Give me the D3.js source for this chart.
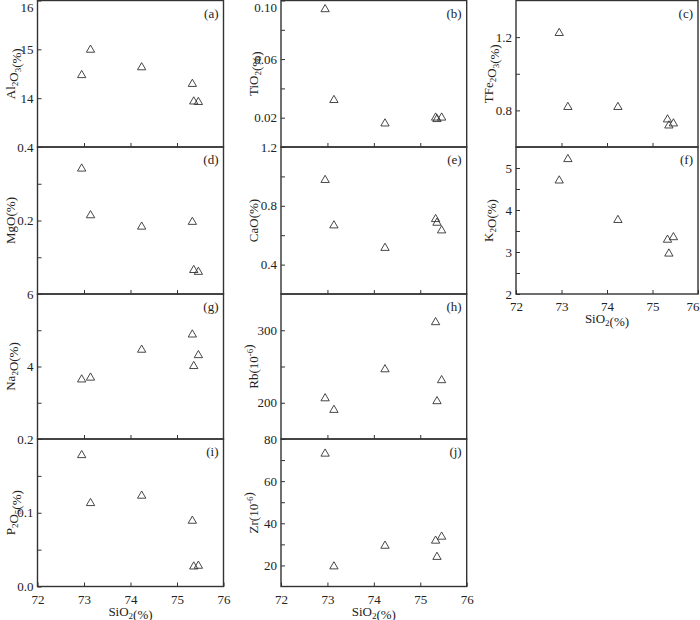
<!DOCTYPE html>
<html>
<head>
<meta charset="utf-8">
<style>
  body { margin: 0; background: #fff; }
  svg { display: block; }
  text { font-family: "Liberation Serif", "Times New Roman", serif; fill: #222; }
</style>
</head>
<body>
<div id="chart"></div>
<script src="https://d3js.org/d3.v7.min.js"></script>
<script>
// six samples, SiO2 (%)
var sio2 = [72.95, 73.14, 74.24, 75.33, 75.36, 75.46];

var al2o3 = [14.47, 14.99, 14.63, 14.29, 13.93, 13.92];
var tio2 = [0.094, 0.032, 0.016, 0.020, 0.019, 0.020];
var tfe2o3 = [1.222, 0.818, 0.818, 0.750, 0.717, 0.728];
var mgo = [0.341, 0.214, 0.183, 0.196, 0.065, 0.060];
var cao = [0.975, 0.666, 0.513, 0.709, 0.684, 0.632];
var k2o = [4.70, 5.21, 3.76, 3.29, 2.96, 3.35];
var na2o = [3.64, 3.69, 4.46, 4.88, 4.01, 4.31];
var rb = [206, 190, 246, 311, 202, 231];
var p2o5 = [0.178, 0.113, 0.123, 0.089, 0.027, 0.028];
var zr = [73, 19.5, 29.3, 31.7, 24, 33.6];

var xTicks = [72, 73, 74, 75, 76];

var w = 700, h = 620;

// column x ranges and row y ranges
var cols = [[37.5, 223.5], [281, 466.7], [516, 698]];
var rows = [[0.5, 147], [147, 294], [294, 439], [439, 586.5]];

// title parts: [text, "sub" | "sup" | ""]
var panels = [
  { id: "a", col: 0, row: 0, vals: al2o3, dom: [13, 16], major: [14, 15, 16], minor: [], fmt: "d",
    title: [["Al", ""], ["2", "sub"], ["O", ""], ["3", "sub"], ["(%)", ""]] },
  { id: "b", col: 1, row: 0, vals: tio2, dom: [0, 0.10], major: [0.02, 0.06, 0.10], minor: [0.04, 0.08], fmt: ".2f",
    title: [["TiO", ""], ["2", "sub"], ["(%)", ""]] },
  { id: "c", col: 2, row: 0, vals: tfe2o3, dom: [0.6, 1.4], major: [0.8, 1.2], minor: [0.6, 1.0], fmt: ".1f",
    title: [["TFe", ""], ["2", "sub"], ["O", ""], ["3", "sub"], ["(%)", ""]] },
  { id: "d", col: 0, row: 1, vals: mgo, dom: [0, 0.4], major: [0.2, 0.4], minor: [0.1, 0.3], fmt: ".1f",
    title: [["MgO(%)", ""]] },
  { id: "e", col: 1, row: 1, vals: cao, dom: [0.2, 1.2], major: [0.4, 0.8, 1.2], minor: [0.6, 1.0], fmt: ".1f",
    title: [["CaO(%)", ""]] },
  { id: "f", col: 2, row: 1, vals: k2o, dom: [2, 5.5], major: [2, 3, 4, 5], minor: [2.5, 3.5, 4.5], fmt: "d",
    title: [["K", ""], ["2", "sub"], ["O(%)", ""]], bottom: true },
  { id: "g", col: 0, row: 2, vals: na2o, dom: [2, 6], major: [4, 6], minor: [3, 5], fmt: "d",
    title: [["Na", ""], ["2", "sub"], ["O(%)", ""]] },
  { id: "h", col: 1, row: 2, vals: rb, dom: [150, 350], major: [200, 300], minor: [250], fmt: "d",
    title: [["Rb(10", ""], ["-6", "sup"], [")", ""]] },
  { id: "i", col: 0, row: 3, vals: p2o5, dom: [0, 0.2], major: [0.0, 0.1, 0.2], minor: [0.05, 0.15], fmt: ".1f",
    title: [["P", ""], ["2", "sub"], ["O", ""], ["5", "sub"], ["(%)", ""]], bottom: true },
  { id: "j", col: 1, row: 3, vals: zr, dom: [10, 80], major: [20, 40, 60, 80], minor: [30, 50, 70], fmt: "d",
    title: [["Zr(10", ""], ["-6", "sup"], [")", ""]], bottom: true }
];

var svg = d3.select("#chart").append("svg").attr("width", w).attr("height", h);

function addRich(sel, parts) {
  parts.forEach(function (p) {
    var t = sel.append("tspan").text(p[0]);
    if (p[1] === "sub") {
      t.attr("font-size", 9).attr("dy", 3);
      sel.append("tspan").attr("dy", -3).text("");
    } else if (p[1] === "sup") {
      t.attr("font-size", 9).attr("dy", -5);
      sel.append("tspan").attr("dy", 5).text("");
    }
  });
}

var tri = d3.symbol().type(d3.symbolTriangle).size(30);

panels.forEach(function (p) {
  var cx = cols[p.col], ry = rows[p.row];
  var x = d3.scaleLinear().domain([72, 76]).range(cx);
  var y = d3.scaleLinear().domain(p.dom).range([ry[1], ry[0]]);
  var g = svg.append("g");

  // y axis, ticks inward
  var ya = g.append("g").attr("transform", "translate(" + cx[0] + ",0)")
    .call(d3.axisLeft(y).tickValues(p.major).tickFormat(d3.format(p.fmt))
      .tickSizeInner(-4).tickSizeOuter(0).tickPadding(4));
  ya.selectAll("text").attr("font-size", 13).attr("fill", "#222")
    .style("font-family", "'Liberation Serif', 'Times New Roman', serif");
  // keep the top label of the first row inside the page
  ya.selectAll(".tick").filter(function (d) { return y(d) < 6; })
    .select("text").attr("dy", 11);
  if (p.minor.length) {
    g.append("g").attr("transform", "translate(" + cx[0] + ",0)")
      .call(d3.axisLeft(y).tickValues(p.minor).tickFormat("").tickSizeInner(-4).tickSizeOuter(0));
  }

  // x axis, ticks inward
  var xa = g.append("g").attr("transform", "translate(0," + ry[1] + ")")
    .call(d3.axisBottom(x).tickValues(p.bottom ? xTicks : [73, 74, 75])
      .tickFormat(p.bottom ? d3.format("d") : "")
      .tickSizeInner(-4).tickSizeOuter(0).tickPadding(8));
  xa.selectAll("text").attr("font-size", 13).attr("fill", "#222")
    .style("font-family", "'Liberation Serif', 'Times New Roman', serif");
  if (p.col === 2) {
    xa.selectAll(".tick").filter(function (d) { return d === 76; })
      .select("text").attr("text-anchor", "end").attr("x", 1);
  }

  g.selectAll(".domain").remove();
  g.selectAll(".tick line").attr("stroke", "#333").attr("stroke-width", 1);

  // frame
  g.append("rect")
    .attr("x", cx[0]).attr("y", ry[0])
    .attr("width", cx[1] - cx[0]).attr("height", ry[1] - ry[0])
    .attr("fill", "none").attr("stroke", "#333").attr("stroke-width", 1.4);

  // points
  g.selectAll("path.pt").data(p.vals).enter().append("path")
    .attr("class", "pt")
    .attr("d", tri)
    .attr("transform", function (d, i) { return "translate(" + x(sio2[i]) + "," + y(d) + ")"; })
    .attr("fill", "none").attr("stroke", "#333").attr("stroke-width", 0.9);

  // panel letter
  g.append("text").attr("x", cx[1] - 5).attr("y", ry[0] + 17)
    .attr("text-anchor", "end").attr("font-size", 13).text("(" + p.id + ")");

  // y title
  var yt = g.append("text")
    .attr("transform", "translate(" + (cx[0] - 23) + "," + ((ry[0] + ry[1]) / 2) + ") rotate(-90)")
    .attr("text-anchor", "middle").attr("font-size", 13);
  addRich(yt, p.title);

  // x title
  if (p.bottom) {
    var xt = g.append("text")
      .attr("x", (cx[0] + cx[1]) / 2).attr("y", ry[1] + 29)
      .attr("text-anchor", "middle").attr("font-size", 13);
    addRich(xt, [["SiO", ""], ["2", "sub"], ["(%)", ""]]);
  }
});
</script>
</body>
</html>
